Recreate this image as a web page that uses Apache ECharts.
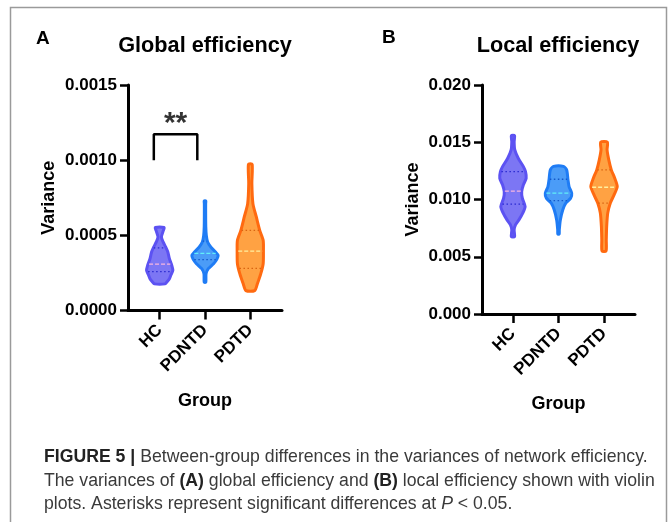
<!DOCTYPE html>
<html>
<head>
<meta charset="utf-8">
<script src="https://cdn.jsdelivr.net/npm/echarts@6/dist/echarts.min.js"></script>
<style>
  html, body { margin: 0; padding: 0; background: #fff; }
  #chart { width: 672px; height: 522px; }
</style>
</head>
<body>
<div id="chart"></div>
<script>
// ---------- DATA ----------
const categories = ['HC', 'PDNTD', 'PDTD'];

// Panel A: global efficiency variance — violin outlines (value levels + relative density width)
const globalHCLevels    = [0.000552, 0.000533, 0.000489, 0.000456, 0.000422, 0.000389, 0.000344, 0.000300, 0.000267, 0.000240, 0.000211, 0.000190, 0.000177];
const globalHCWidths    = [0.33, 0.28, 0.13, 0.26, 0.46, 0.62, 0.74, 0.92, 1.00, 0.87, 0.74, 0.55, 0.41];
const globalPDNTDLevels = [0.000728, 0.000711, 0.000644, 0.000556, 0.000500, 0.000456, 0.000422, 0.000389, 0.000367, 0.000340, 0.000311, 0.000278, 0.000244, 0.000188];
const globalPDNTDWidths = [0.06, 0.05, 0.05, 0.06, 0.10, 0.20, 0.45, 0.80, 1.00, 0.90, 0.65, 0.25, 0.08, 0.06];
const globalPDTDLevels  = [0.000972, 0.000845, 0.000711, 0.000622, 0.000533, 0.000467, 0.000392, 0.000311, 0.000245, 0.000178, 0.000132];
const globalPDTDWidths  = [0.14, 0.12, 0.20, 0.46, 0.72, 0.98, 1.00, 0.98, 0.80, 0.54, 0.33];
const globalQ1     = [0.000258, 0.000338, 0.000280];
const globalMedian = [0.000309, 0.000380, 0.000395];
const globalQ3     = [0.000416, 0.000462, 0.000533];

// Panel B: local efficiency variance
const localHCLevels    = [0.01557, 0.01505, 0.01433, 0.01360, 0.01287, 0.01243, 0.01186, 0.01128, 0.01069, 0.01012, 0.00938, 0.00881, 0.00822, 0.00779, 0.00735, 0.00676];
const localHCWidths    = [0.12, 0.09, 0.14, 0.40, 0.79, 0.95, 1.00, 0.79, 0.66, 0.71, 0.92, 0.74, 0.45, 0.19, 0.09, 0.12];
const localPDNTDLevels = [0.01289, 0.01258, 0.01171, 0.01113, 0.01055, 0.01012, 0.00968, 0.00909, 0.00822, 0.00735, 0.00698];
const localPDNTDWidths = [0.38, 0.62, 0.72, 0.80, 1.00, 0.92, 0.55, 0.32, 0.14, 0.06, 0.05];
const localPDTDLevels  = [0.01501, 0.01433, 0.01346, 0.01258, 0.01186, 0.01113, 0.01040, 0.00968, 0.00881, 0.00764, 0.00648, 0.00550];
const localPDTDWidths  = [0.25, 0.23, 0.36, 0.55, 0.81, 1.00, 0.76, 0.47, 0.28, 0.20, 0.17, 0.15];
const localQ1     = [0.00959, 0.00990, 0.00968];
const localMedian = [0.01073, 0.01055, 0.01107];
const localQ3     = [0.01243, 0.01177, 0.01258];

// Significance bracket (HC vs PDNTD, panel A)
const bracketX = [-0.13, -0.13, 0.83, 0.83];
const bracketY = [0.00100, 0.001173, 0.001173, 0.00100];
const sigLabel = '**';

const globalTicks = [0, 0.0005, 0.0010, 0.0015];
const localTicks  = [0, 0.005, 0.010, 0.015, 0.020];

// ---------- STYLE ----------
const fills    = ['#7C76F4', '#4B9CF7', '#FFA243'];
const strokes  = ['#5C52F2', '#1F7CF5', '#FF6A10'];
const medCols  = ['#F7B6DE', '#62EEF8', '#FFF0A0'];
const quartCols= ['#2B2BD0', '#1458C8', '#D86412'];
const HALF = 0.29;
const FONT = 'Liberation Sans, Arial, sans-serif';

const globalProfiles = [
  { levels: globalHCLevels, widths: globalHCWidths },
  { levels: globalPDNTDLevels, widths: globalPDNTDWidths },
  { levels: globalPDTDLevels, widths: globalPDTDWidths }
];
const localProfiles = [
  { levels: localHCLevels, widths: localHCWidths },
  { levels: localPDNTDLevels, widths: localPDNTDWidths },
  { levels: localPDTDLevels, widths: localPDTDWidths }
];

function widthAt(prof, v) {
  const L = prof.levels, W = prof.widths;
  for (let k = 0; k < L.length - 1; k++) {
    const a = L[k], b = L[k + 1];
    if ((v <= a && v >= b)) {
      const t = (a - v) / (a - b);
      return W[k] + (W[k + 1] - W[k]) * t;
    }
  }
  return 0;
}

function violinSeries(axisIdx, profiles, q1, med, q3) {
  return {
    type: 'custom',
    xAxisIndex: axisIdx,
    yAxisIndex: axisIdx,
    silent: true,
    clip: false,
    data: categories.map((c, i) => [i, med[i]]),
    renderItem: function (params, api) {
      const i = params.dataIndex;
      const prof = profiles[i];
      const right = [], left = [];
      for (let k = 0; k < prof.levels.length; k++) {
        right.push(api.coord([i + prof.widths[k] * HALF, prof.levels[k]]));
        left.push(api.coord([i - prof.widths[k] * HALF, prof.levels[k]]));
      }
      const pts = right.concat(left.reverse());
      const children = [{
        type: 'polygon',
        shape: { points: pts, smooth: 0.25 },
        style: { fill: fills[i], stroke: strokes[i], lineWidth: 3, lineJoin: 'round' }
      }];
      const qs = [[q3[i], quartCols[i], [1.5, 2.5]], [med[i], medCols[i], [4, 2]], [q1[i], quartCols[i], [1.5, 2.5]]];
      qs.forEach(q => {
        const w = widthAt(prof, q[0]) * HALF * 0.92;
        const p1 = api.coord([i - w, q[0]]);
        const p2 = api.coord([i + w, q[0]]);
        children.push({
          type: 'line',
          shape: { x1: p1[0], y1: p1[1], x2: p2[0], y2: p2[1] },
          style: { stroke: q[1], lineWidth: 1.3, lineDash: q[2] }
        });
      });
      return { type: 'group', children: children };
    }
  };
}

function xAxisDef(gridIndex, min, max, gap) {
  return {
    type: 'value', gridIndex: gridIndex, min: min, max: max,
    splitLine: { show: false },
    axisLine: { show: true, onZero: false, lineStyle: { color: '#000', width: 3 } },
    axisTick: { show: true, customValues: [0, 1, 2], length: 9, lineStyle: { color: '#000', width: 2.5 } },
    axisLabel: {
      show: true, customValues: [0, 1, 2], rotate: 45, margin: 17,
      formatter: v => categories[Math.round(v)] || '',
      color: '#000', fontWeight: 'bold', fontSize: 17, fontFamily: FONT
    },
    name: 'Group', nameLocation: 'middle', nameGap: gap,
    nameTextStyle: { color: '#000', fontWeight: 'bold', fontSize: 18, fontFamily: FONT }
  };
}

function yAxisDef(gridIndex, ticks, digits, gap) {
  return {
    type: 'value', gridIndex: gridIndex,
    min: ticks[0], max: ticks[ticks.length - 1], interval: ticks[1] - ticks[0],
    splitLine: { show: false },
    axisLine: { show: true, onZero: false, lineStyle: { color: '#000', width: 3 } },
    axisTick: { show: true, length: 8, lineStyle: { color: '#000', width: 2.5 } },
    axisLabel: {
      margin: 11, color: '#000', fontWeight: 'bold', fontSize: 17, fontFamily: FONT,
      formatter: v => v.toFixed(digits)
    },
    name: 'Variance', nameLocation: 'middle', nameGap: gap, nameRotate: 90,
    nameTextStyle: { color: '#000', fontWeight: 'bold', fontSize: 18, fontFamily: FONT }
  };
}

// caption font: fit first line to the reference's line length
const CAP_FONT = '"Liberation Sans Narrow", "Liberation Sans", Arial, sans-serif';
const capLine1 = 'FIGURE 5 | Between-group differences in the variances of network efficiency.';
let capSize = 16;
(function () {
  const c = document.createElement('canvas').getContext('2d');
  c.font = '16px ' + CAP_FONT;
  const w = c.measureText(capLine1).width + 6; // bold prefix approx
  capSize = Math.max(13, Math.min(20, 16 * 610 / w));
})();

const chart = echarts.init(document.getElementById('chart'), null, { renderer: 'canvas' });

const capStyle = { fontFamily: CAP_FONT, fontSize: capSize, fill: '#3a3a3a' };
const capRich = {
  b: { fontFamily: CAP_FONT, fontSize: capSize, fontWeight: 'bold', fill: '#222' },
  i: { fontFamily: CAP_FONT, fontSize: capSize, fontStyle: 'italic', fill: '#3a3a3a' }
};

const option = {
  backgroundColor: '#fff',
  animation: false,
  grid: [
    { left: 128, top: 85, width: 154, height: 225.5 },
    { left: 482, top: 85, width: 153, height: 229 }
  ],
  xAxis: [xAxisDef(0, -0.7, 2.7, 82), xAxisDef(1, -0.68, 2.68, 81)],
  yAxis: [yAxisDef(0, globalTicks, 4, 70), yAxisDef(1, localTicks, 3, 60)],
  series: [
    violinSeries(0, globalProfiles, globalQ1, globalMedian, globalQ3),
    violinSeries(1, localProfiles, localQ1, localMedian, localQ3),
    {
      type: 'line', xAxisIndex: 0, yAxisIndex: 0, silent: true,
      data: bracketX.map((x, k) => [x, bracketY[k]]),
      symbol: 'none', lineStyle: { color: '#000', width: 2.5 }
    },
    {
      type: 'scatter', xAxisIndex: 0, yAxisIndex: 0, silent: true,
      data: [[(bracketX[0] + bracketX[3]) / 2, bracketY[1]]],
      symbolSize: 0,
      label: {
        show: true, position: 'top', distance: 0, offset: [0, 5], formatter: sigLabel,
        color: '#000', fontWeight: 'bold', fontSize: 30, fontFamily: FONT
      }
    }
  ],
  graphic: [
    { type: 'rect', shape: { x: 10.5, y: 7.5, width: 656, height: 620 }, style: { fill: 'none', stroke: '#9a9a9a', lineWidth: 1.5 }, silent: true },
    { type: 'text', left: 36, top: 29, style: { text: 'A', fontFamily: FONT, fontWeight: 'bold', fontSize: 19, fill: '#000' } },
    { type: 'text', left: 382, top: 28, style: { text: 'B', fontFamily: FONT, fontWeight: 'bold', fontSize: 19, fill: '#000' } },
    { type: 'text', x: 205, y: 46, style: { text: 'Global efficiency', fontFamily: FONT, fontWeight: 'bold', fontSize: 21.7, fill: '#000', align: 'center', verticalAlign: 'middle' } },
    { type: 'text', x: 558, y: 46, style: { text: 'Local efficiency', fontFamily: FONT, fontWeight: 'bold', fontSize: 21.7, fill: '#000', align: 'center', verticalAlign: 'middle' } },
    { type: 'text', x: 44, y: 457, style: Object.assign({ text: '{b|FIGURE 5 |} Between-group differences in the variances of network efficiency.', rich: capRich, verticalAlign: 'middle' }, capStyle) },
    { type: 'text', x: 44, y: 481, style: Object.assign({ text: 'The variances of {b|(A)} global efficiency and {b|(B)} local efficiency shown with violin', rich: capRich, verticalAlign: 'middle' }, capStyle) },
    { type: 'text', x: 44, y: 504, style: Object.assign({ text: 'plots. Asterisks represent significant differences at {i|P} < 0.05.', rich: capRich, verticalAlign: 'middle' }, capStyle) }
  ]
};
chart.setOption(option);
</script>
</body>
</html>
